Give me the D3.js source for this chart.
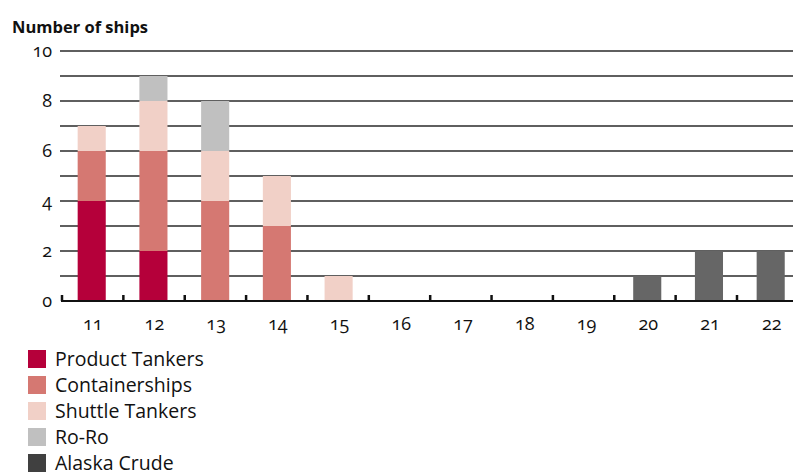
<!DOCTYPE html>
<html><head><meta charset="utf-8">
<script src="https://cdn.jsdelivr.net/npm/d3@7"></script>
<style>body{margin:0;background:#fff}svg{display:block}
.num{font-variant-numeric:oldstyle-nums;font-feature-settings:"onum" 1}</style>
</head><body>
<svg id="c" width="793" height="472"></svg>
<script>
const categories = ["11","12","13","14","15","16","17","18","19","20","21","22"];
const seriesNames = ["Product Tankers","Containerships","Shuttle Tankers","Ro-Ro","Alaska Crude"];
const productTankers = [4,2,0,0,0,0,0,0,0,0,0,0];
const containerships = [2,4,4,3,0,0,0,0,0,0,0,0];
const shuttleTankers = [1,2,2,2,1,0,0,0,0,0,0,0];
const roRo          = [0,1,2,0,0,0,0,0,0,0,0,0];
const alaskaCrude   = [0,0,0,0,0,0,0,0,0,1,2,2];
const yTicks = [0,2,4,6,8,10];
const barColors = ["#b5003a","#d57872","#f1d0c7","#c0c0c0","#666666"];
const legendColors = ["#b5003a","#d57872","#f1d0c7","#c0c0c0","#404040"];

const svg = d3.select("#c");
const font = "'Open Sans', sans-serif";
const x = d3.scaleBand().domain(categories).range([61, 801.4]).paddingInner(0.545).paddingOuter(0.27);
const y = d3.scaleLinear().domain([0,10]).range([301,51]);
const tickX = d3.scaleLinear().domain([0,11]).range([62,737]);

const rows = categories.map((c,i)=>({cat:c,
  "Product Tankers":productTankers[i],"Containerships":containerships[i],
  "Shuttle Tankers":shuttleTankers[i],"Ro-Ro":roRo[i],"Alaska Crude":alaskaCrude[i]}));
const stack = d3.stack().keys(seriesNames)(rows);

// gridlines
svg.append("g").selectAll("line").data(d3.range(1,11)).join("line")
  .attr("x1",60).attr("x2",793).attr("y1",d=>y(d)).attr("y2",d=>y(d))
  .attr("stroke","#2a2a2a").attr("stroke-width",1.6);

// bars
svg.append("g").selectAll("g").data(stack).join("g")
  .attr("fill",(d,i)=>barColors[i])
  .selectAll("rect").data(d=>d.filter(s=>s[1]>s[0])).join("rect")
  .attr("x",d=>x(d.data.cat)).attr("width",x.bandwidth())
  .attr("y",d=>y(d[1])).attr("height",d=>y(d[0])-y(d[1]));

// baseline + ticks
svg.append("line").attr("x1",61).attr("x2",793).attr("y1",y(0)).attr("y2",y(0))
  .attr("stroke","#111").attr("stroke-width",2);
svg.append("g").selectAll("line").data(categories).join("line")
  .attr("x1",(d,i)=>tickX(i)).attr("x2",(d,i)=>tickX(i))
  .attr("y1",y(0)).attr("y2",y(0)-6).attr("stroke","#111").attr("stroke-width",2.5);

// x labels
svg.append("g").selectAll("text").data(categories).join("text")
  .attr("class","num")
  .attr("x",d=>x(d)+x.bandwidth()/2+1).attr("y",330)
  .attr("text-anchor","middle").attr("font-family",font).attr("font-size",18).attr("fill","#111")
  .text(d=>d);

// y labels
svg.append("g").selectAll("text").data(yTicks).join("text")
  .attr("class","num")
  .attr("x",52).attr("y",d=>y(d)+6).attr("text-anchor","end")
  .attr("font-family",font).attr("font-size",18).attr("fill","#111").text(d=>d);

// title
svg.append("text").attr("x",12).attr("y",33).attr("font-family",font).attr("font-weight","bold")
  .attr("font-size",16.5).attr("fill","#111").text("Number of ships");

// legend
const lg = svg.append("g").selectAll("g").data(seriesNames).join("g")
  .attr("transform",(d,i)=>`translate(28,${350+i*26})`);
lg.append("rect").attr("width",18).attr("height",18).attr("fill",(d,i)=>legendColors[i]);
lg.append("text").attr("x",27).attr("y",16).attr("font-family",font).attr("font-size",19.5)
  .attr("fill","#111").text(d=>d);
</script>
</body></html>
